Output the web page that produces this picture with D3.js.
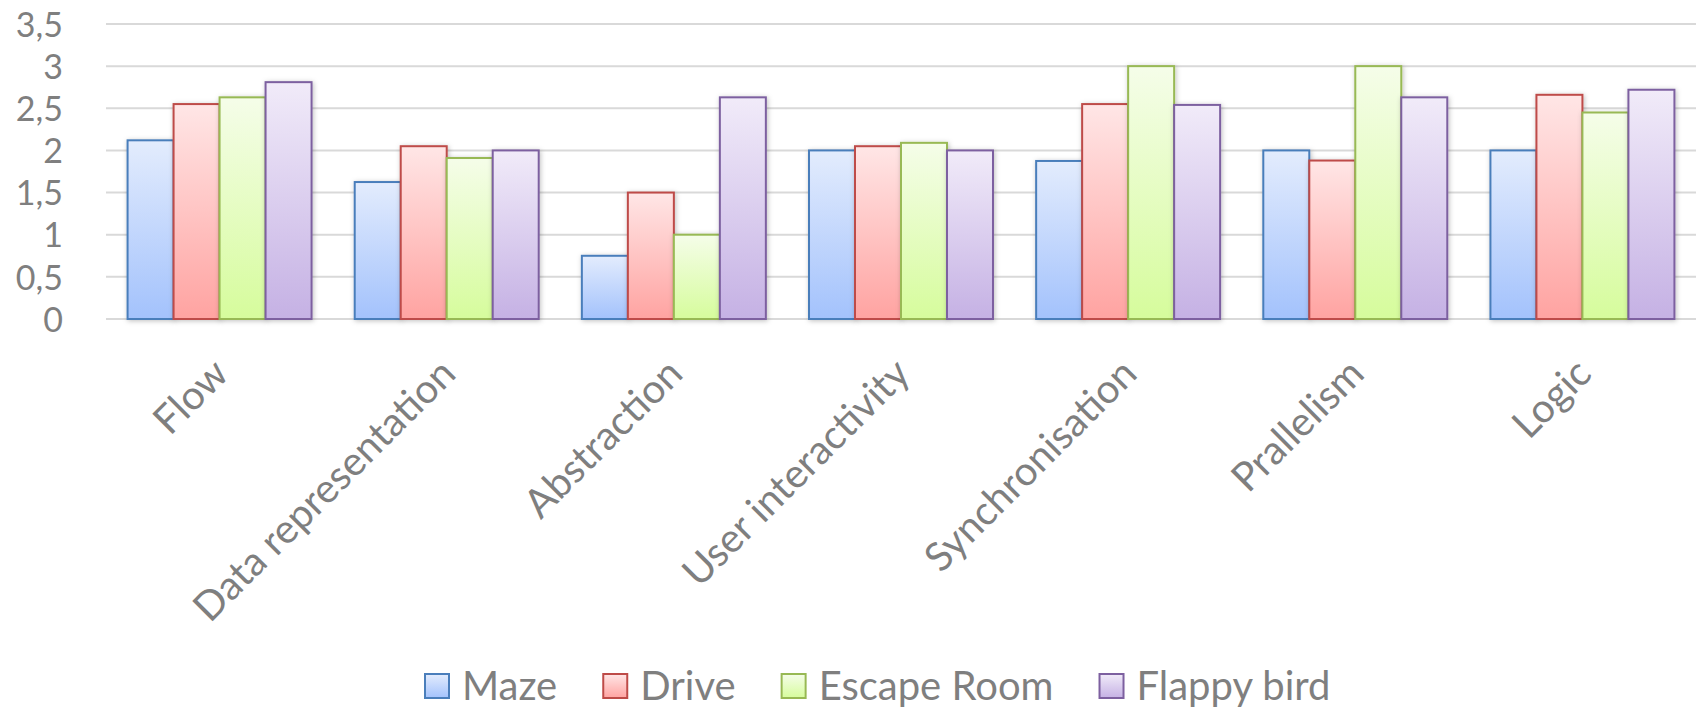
<!DOCTYPE html>
<html>
<head>
<meta charset="utf-8">
<script src="https://cdn.jsdelivr.net/npm/d3@7"></script>
<style>
  html, body { margin: 0; padding: 0; background: #ffffff; }
  svg { display: block; }
  text { font-family: Lato, "Open Sans", sans-serif; fill: #7f7f7f; }
</style>
</head>
<body>
<svg id="chart" width="1696" height="711"></svg>
<script>
// Scores per computational-thinking dimension for each game
const categories = ["Flow", "Data representation", "Abstraction", "User interactivity", "Synchronisation", "Prallelism", "Logic"];
const seriesNames = ["Maze", "Drive", "Escape Room", "Flappy bird"];
const maze       = [2.12, 1.625, 0.75, 2.0, 1.875, 2.0, 2.0];
const drive      = [2.55, 2.05, 1.5, 2.05, 2.55, 1.88, 2.66];
const escapeRoom = [2.63, 1.91, 1.0, 2.09, 3.0, 3.0, 2.45];
const flappyBird = [2.81, 2.0, 2.63, 2.0, 2.54, 2.63, 2.72];
const tickValues = [0, 0.5, 1, 1.5, 2, 2.5, 3, 3.5];
const tickLabels = ["0", "0,5", "1", "1,5", "2", "2,5", "3", "3,5"];

const seriesValues = [maze, drive, escapeRoom, flappyBird];
const palette = [
  { stroke: "#4a7ebb", top: "#e3ecfd", bottom: "#a3c2fc" },
  { stroke: "#be4b48", top: "#ffe6e6", bottom: "#ffa3a1" },
  { stroke: "#98b954", top: "#f5fde9", bottom: "#d6fc9c" },
  { stroke: "#7d60a0", top: "#f1ebf9", bottom: "#c5b1e4" }
];
const fontSize = "40px";
const tickFontSize = "34px";

const svg = d3.select("#chart");
const plot = { left: 106, right: 1696, top: 24, bottom: 319 };

const defs = svg.append("defs");
palette.forEach((p, i) => {
  const g = defs.append("linearGradient")
    .attr("id", "grad" + i)
    .attr("x1", 0).attr("y1", 0).attr("x2", 0).attr("y2", 1);
  g.append("stop").attr("offset", "0%").attr("stop-color", p.top);
  g.append("stop").attr("offset", "100%").attr("stop-color", p.bottom);
});
const shadow = defs.append("filter").attr("id", "barShadow")
  .attr("x", "-20%").attr("y", "-10%").attr("width", "140%").attr("height", "120%");
shadow.append("feDropShadow")
  .attr("dx", 1).attr("dy", 1).attr("stdDeviation", 2.5)
  .attr("flood-color", "#000000").attr("flood-opacity", 0.25);

const x0 = d3.scaleBand().domain(categories).range([plot.left, plot.right]).paddingInner(0.19).paddingOuter(0.095);
const x1 = d3.scaleBand().domain(seriesNames).range([0, x0.bandwidth()]).padding(0);
const y = d3.scaleLinear().domain([0, 3.5]).range([plot.bottom, plot.top]);

// gridlines
svg.append("g").selectAll("line").data(tickValues).join("line")
  .attr("x1", plot.left).attr("x2", plot.right)
  .attr("y1", d => y(d)).attr("y2", d => y(d))
  .attr("stroke", "#d9d9d9").attr("stroke-width", 2);

// y axis labels
const yAxis = d3.axisLeft(y).tickValues(tickValues)
  .tickFormat((d, i) => tickLabels[i]).tickSize(0).tickPadding(0);
const yG = svg.append("g").attr("transform", "translate(63,0)").call(yAxis);
yG.select(".domain").remove();
yG.selectAll("text").style("font-size", tickFontSize).attr("fill", "#7f7f7f")
  .attr("dy", "0.36em");

// bars
const groups = svg.append("g").selectAll("g").data(categories).join("g")
  .attr("transform", d => `translate(${x0(d)},0)`);
groups.selectAll("rect")
  .data((c, ci) => seriesNames.map((s, si) => ({ s, si, v: seriesValues[si][ci] })))
  .join("rect")
  .attr("x", d => x1(d.s))
  .attr("y", d => y(d.v))
  .attr("width", x1.bandwidth())
  .attr("height", d => y(0) - y(d.v))
  .attr("fill", d => `url(#grad${d.si})`)
  .attr("stroke", d => palette[d.si].stroke)
  .attr("stroke-width", 2)
  .attr("filter", "url(#barShadow)");

// category labels, rotated 45 degrees and ending under each group
const xAxis = d3.axisBottom(x0).tickSize(0).tickPadding(0);
const xG = svg.append("g").attr("transform", `translate(0,${plot.bottom})`).call(xAxis);
xG.select(".domain").remove();
xG.selectAll("text")
  .style("font-size", fontSize).attr("fill", "#7f7f7f")
  .attr("text-anchor", "end").attr("dy", null).attr("y", null)
  .attr("transform", "translate(11,57) rotate(-45)");

// legend
const legend = svg.append("g").attr("transform", "translate(425,686)");
let lx = 0;
seriesNames.forEach((name, i) => {
  const item = legend.append("g").attr("transform", `translate(${lx},0)`);
  item.append("rect").attr("x", 0).attr("y", -12).attr("width", 24).attr("height", 24)
    .attr("fill", `url(#grad${i})`).attr("stroke", palette[i].stroke).attr("stroke-width", 2);
  const t = item.append("text").attr("x", 37).attr("y", 0).attr("dy", "0.36em")
    .style("font-size", fontSize).text(name);
  lx += 37 + t.node().getComputedTextLength() + 46;
});
</script>
</body>
</html>
